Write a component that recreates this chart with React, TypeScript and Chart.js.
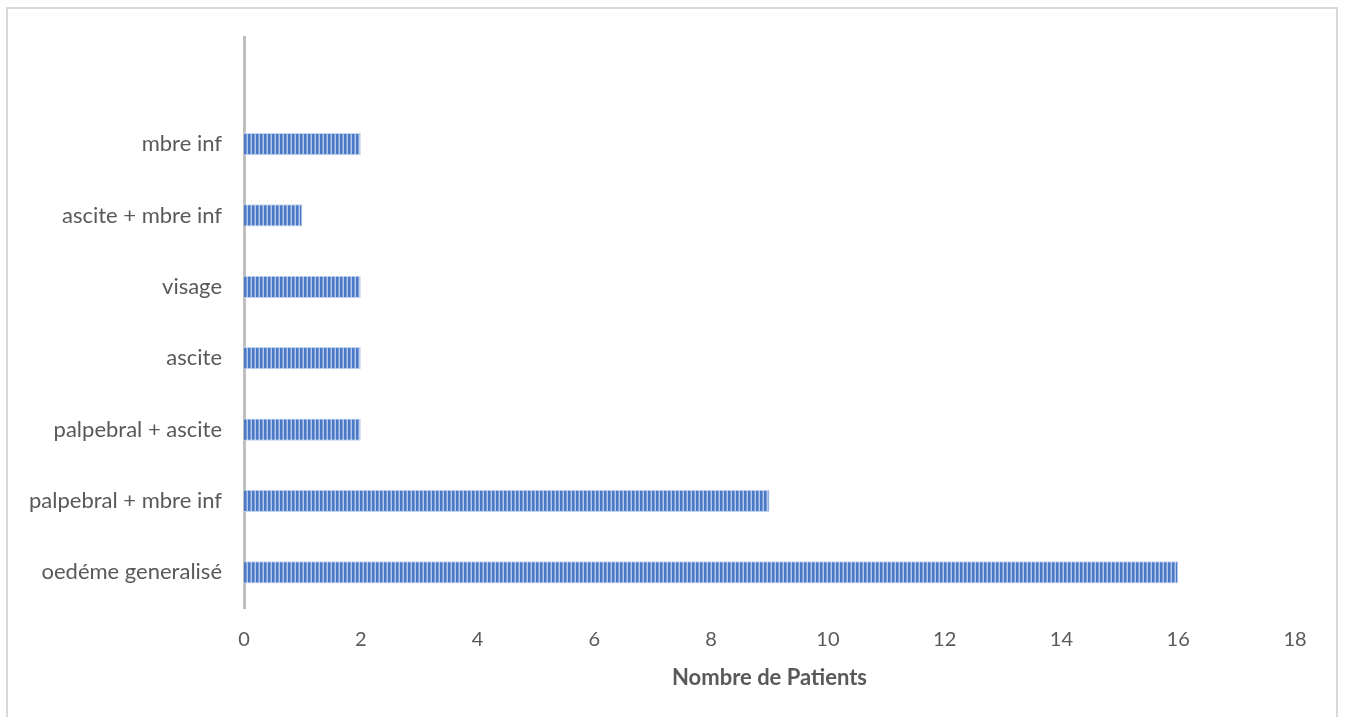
import React, { useEffect, useRef } from "react";
import { Chart, registerables } from "chart.js";

Chart.register(...registerables);

const categories = [
  "oedéme generalisé",
  "palpebral + mbre inf",
  "palpebral + ascite",
  "ascite",
  "visage",
  "ascite + mbre inf",
  "mbre inf",
  "",
];
const patients = [16, 9, 2, 2, 2, 1, 2, null];
const xTitle = "Nombre de Patients";

const W = 1346;
const H = 717;

function makePattern(): CanvasPattern | string {
  const c = document.createElement("canvas");
  c.width = 4;
  c.height = 4;
  const g = c.getContext("2d");
  if (!g) return "#4472c4";
  g.fillStyle = "#b3c8ec";
  g.fillRect(0, 0, 4, 4);
  g.fillStyle = "#4a79c6";
  g.fillRect(0, 0, 2, 4);
  g.fillStyle = "#7d9ed8";
  g.fillRect(2, 0, 1, 4);
  const p = g.createPattern(c, "repeat");
  return p || "#4472c4";
}

const borderPlugin = {
  id: "outerBorder",
  beforeDraw(chart: any) {
    const ctx = chart.ctx;
    ctx.save();
    ctx.fillStyle = "#ffffff";
    ctx.fillRect(0, 0, chart.width, chart.height);
    ctx.strokeStyle = "#d9d9d9";
    ctx.lineWidth = 2;
    ctx.strokeRect(7, 8, 1330, 760);
    ctx.restore();
  },
};

export default function App() {
  const ref = useRef<HTMLCanvasElement | null>(null);
  useEffect(() => {
    if (!ref.current) return;
    const chart = new Chart(ref.current, {
      type: "bar",
      data: {
        labels: categories,
        datasets: [
          {
            data: patients as any,
            backgroundColor: makePattern() as any,
            borderColor: "#c2d3ef",
            borderWidth: 1,
            barPercentage: 0.31,
            categoryPercentage: 1,
          },
        ],
      },
      options: {
        indexAxis: "y",
        animation: false,
        responsive: false,
        devicePixelRatio: 1,
        layout: { padding: { top: 37, right: 51, bottom: 0, left: 0 } },
        plugins: {
          legend: { display: false },
          tooltip: { enabled: false },
        },
        scales: {
          x: {
            min: 0,
            max: 18,
            ticks: {
              stepSize: 2,
              color: "#595959",
              font: { family: "Lato", size: 20 },
              padding: 20,
            },
            grid: { display: false, drawTicks: false },
            border: { display: false },
            title: {
              display: true,
              text: xTitle,
              color: "#595959",
              font: { family: "Lato", size: 22, weight: "bold" },
              padding: { top: 8, bottom: 26 },
            },
            afterFit(scale: any) {
              scale.height = 109;
            },
          },
          y: {
            reverse: true,
            ticks: {
              color: "#595959",
              font: { family: "Lato", size: 22 },
              padding: 22,
            },
            grid: { display: false, drawTicks: false },
            border: { display: true, color: "#bfbfbf", width: 3 },
            afterFit(scale: any) {
              scale.width = 244;
            },
          },
        },
      },
      plugins: [borderPlugin],
    });
    return () => chart.destroy();
  }, []);
  return (
    <div style={{ position: "fixed", left: 0, top: 0, width: W, height: H, background: "#fff" }}>
      <canvas ref={ref} width={W} height={H} style={{ width: W, height: H, display: "block" }} />
    </div>
  );
}
